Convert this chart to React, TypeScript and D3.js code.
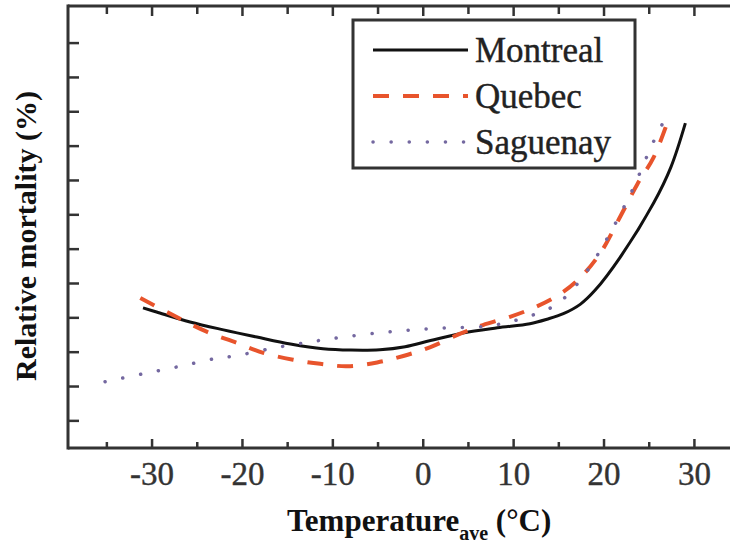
import React from "react";
import * as d3 from "d3";

// ---- data ----
const montrealTemp = [-31.0, -29.5, -25.8, -22.1, -18.4, -14.7, -11.1, -8.0, -4.8, -2.0, 0.8, 4.4, 8.2, 11.8, 13.7, 15.5, 17.4, 19.0, 21.8, 25.5, 27.4, 29.0];
const montrealVal = [42.9, 41.7, 38.8, 36.5, 34.4, 32.4, 31.0, 30.6, 30.7, 31.6, 33.4, 35.6, 37.1, 38.3, 39.6, 41.2, 44.0, 48.0, 57.7, 73.5, 83.9, 96.7];

const quebecTemp = [-31.3, -27.7, -23.9, -20.6, -17.7, -14.4, -11.4, -8.4, -5.1, -2.2, 0.8, 4.1, 6.6, 9.6, 12.2, 14.8, 17.1, 19.6, 21.8, 23.7, 25.5, 27.1];
const quebecVal = [45.8, 40.8, 35.9, 32.7, 29.8, 27.8, 26.6, 25.9, 27.0, 28.9, 31.5, 35.4, 37.9, 40.3, 42.9, 46.4, 51.0, 58.9, 69.5, 79.0, 86.8, 97.6];

const saguenayTemp = [-35.2, -31.0, -26.7, -22.7, -20.8, -16.6, -12.5, -8.9, -5.0, -1.2, 2.8, 7.1, 10.4, 14.1, 15.5, 18.2, 22.6, 25.4, 26.8];
const saguenayVal = [21.4, 23.7, 26.0, 28.3, 28.9, 31.2, 33.0, 34.4, 35.6, 36.5, 37.1, 37.6, 39.4, 42.9, 45.5, 53.9, 74.3, 90.9, 98.2];

const seriesNames = ["Montreal", "Quebec", "Saguenay"];
const xTickLabels = [-30, -20, -10, 0, 10, 20, 30];
const xMinorTicks = [-35, -25, -15, -5, 5, 15, 25, 35];
const yTickValues = [10, 20, 30, 40, 50, 60, 70, 80, 90, 100, 110, 120];

const X_DOMAIN: [number, number] = [-39.3, 34.6];
const Y_DOMAIN: [number, number] = [2.1, 130.8];

export default function App() {
  const W = 730, H = 546;
  const left = 68, right = 736, top = 6, bottom = 448;
  const x = d3.scaleLinear().domain(X_DOMAIN).range([left, right]);
  const y = d3.scaleLinear().domain(Y_DOMAIN).range([bottom, top]);
  const line = d3
    .line<[number, number]>()
    .x((d) => x(d[0]))
    .y((d) => y(d[1]))
    .curve(d3.curveCatmullRom.alpha(0.5));

  const zip = (a: number[], b: number[]) => a.map((t, i) => [t, b[i]] as [number, number]);
  const styles = [
    { stroke: "#111", width: 3, dash: undefined as string | undefined, cap: "butt" },
    { stroke: "#e8542c", width: 4, dash: "16 14", cap: "butt" },
    { stroke: "#7468a0", width: 3.5, dash: "0.1 18", cap: "round" },
  ];
  const data = [
    zip(montrealTemp, montrealVal),
    zip(quebecTemp, quebecVal),
    zip(saguenayTemp, saguenayVal),
  ];

  const serif = "'Liberation Serif', 'DejaVu Serif', serif";
  const allTicks = [...xTickLabels, ...xMinorTicks].filter((t) => x(t) > left && x(t) < W);

  const legendLeft = 353, legendTop = 20, legendRight = 635, legendBottom = 168;
  const legendRows = [50, 96, 142];

  return (
    <svg width={W} height={H} style={{ position: "absolute", left: 0, top: 0, background: "#fff" }}>
      {/* curves */}
      {data.map((d, i) => (
        <path
          key={i}
          d={line(d) || ""}
          fill="none"
          stroke={styles[i].stroke}
          strokeWidth={styles[i].width}
          strokeDasharray={styles[i].dash}
          strokeLinecap={styles[i].cap as any}
        />
      ))}

      {/* frame */}
      <line x1={left} x2={right} y1={top} y2={top} stroke="#333" strokeWidth={3} />
      <line x1={left} x2={right} y1={bottom} y2={bottom} stroke="#333" strokeWidth={3} />
      <line x1={left} x2={left} y1={top - 1.5} y2={bottom + 1.5} stroke="#333" strokeWidth={3} />

      {/* left ticks */}
      {yTickValues.map((v) => (
        <line key={"y" + v} x1={left} x2={left + 11} y1={y(v)} y2={y(v)} stroke="#333" strokeWidth={2.5} />
      ))}
      {/* top & bottom ticks */}
      {allTicks.map((t) => {
        const major = xTickLabels.includes(t);
        return (
          <g key={"t" + t}>
            <line x1={x(t)} x2={x(t)} y1={top} y2={top + (major ? 10 : 8)} stroke="#333" strokeWidth={2.5} />
            <line x1={x(t)} x2={x(t)} y1={bottom} y2={bottom - (major ? 9 : 6)} stroke="#333" strokeWidth={2.5} />
          </g>
        );
      })}

      {/* x tick labels */}
      {xTickLabels.map((t) => (
        <text key={"l" + t} x={x(t)} y={485} textAnchor="middle" fontFamily={serif} fontSize={33} fill="#333"
          stroke="#333" strokeWidth={0.4}>
          {t}
        </text>
      ))}

      {/* legend */}
      <rect
        x={legendLeft}
        y={legendTop}
        width={legendRight - legendLeft}
        height={legendBottom - legendTop}
        fill="#fff"
        stroke="#333"
        strokeWidth={3}
      />
      {seriesNames.map((name, i) => (
        <g key={name}>
          <line
            x1={373}
            x2={468}
            y1={legendRows[i]}
            y2={legendRows[i]}
            stroke={styles[i].stroke}
            strokeWidth={styles[i].width}
            strokeDasharray={styles[i].dash}
            strokeLinecap={styles[i].cap as any}
          />
          <text x={475} y={legendRows[i] + 12} fontFamily={serif} fontSize={35} fill="#222"
            stroke="#222" strokeWidth={0.4}>
            {name}
          </text>
        </g>
      ))}

      {/* axis titles */}
      <text
        transform="translate(36,236) rotate(-90)"
        textAnchor="middle"
        fontFamily={serif}
        fontWeight="bold"
        fontSize={30}
        fill="#111"
      >
        Relative mortality (%)
      </text>
      <text x={287} y={531} fontFamily={serif} fontWeight="bold" fontSize={31} fill="#111">
        Temperature
        <tspan dy={9} fontSize={20}>ave</tspan>
        <tspan dy={-9}> (°C)</tspan>
      </text>
    </svg>
  );
}
